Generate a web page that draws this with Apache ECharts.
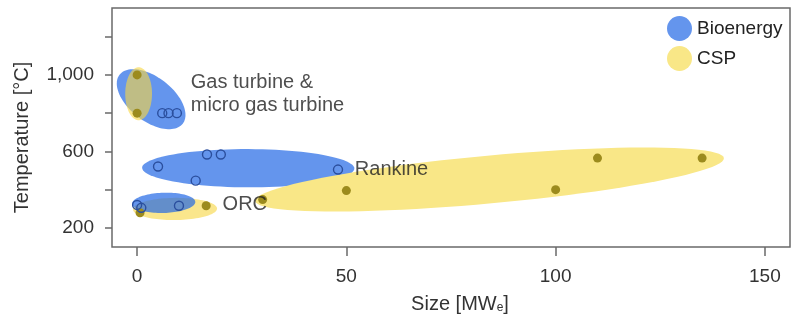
<!DOCTYPE html>
<html>
<head>
<meta charset="utf-8">
<script src="https://cdn.jsdelivr.net/npm/echarts@6/dist/echarts.min.js"></script>
<style>
  html, body { margin: 0; padding: 0; background: #fff; }
  #chart { width: 792px; height: 320px; }
</style>
</head>
<body>
<div id="chart"></div>
<script>
// ---- Data ----
// Bioenergy points (open circles)
const bioSize = [6, 7.5, 9.5, 5, 14, 16.7, 20, 48, 0, 1, 10];
const bioTemp = [800, 800, 800, 521, 447, 584, 584, 505, 320, 305, 316];
// CSP points (filled dots)
const cspSize = [0, 0, 0.7, 16.5, 30, 50, 100, 110, 135];
const cspTemp = [1000, 800, 279, 316, 348, 395, 400, 565, 565];

// Technology zones: major-axis end points [size, temp] and half-width (in °C)
const bioZoneFrom = [[-4.2, 1001], [1.2, 514], [-1.2, 326]];
const bioZoneTo   = [[10.9, 745], [51.9, 510], [13.9, 336]];
const bioZoneHalf = [115, 100, 53];
const cspZoneFrom = [[0.36, 1040], [-1.0, 297], [28.2, 341]];
const cspZoneTo   = [[0.36, 763], [19.1, 301], [140.2, 565]];
const cspZoneHalf = [70, 58, 125];

// Annotations
const annoText = ['Gas turbine &\nmicro gas turbine', 'Rankine', 'ORC'];
const annoSize = [12.7, 51.9, 20.3];
const annoTemp = [902, 508, 322];

// Axes
const xTicks = [0, 50, 100, 150];
const yTicks = [200, 400, 600, 800, 1000, 1200];
const yLabels = [200, 600, 1000];
const xRange = [-6, 156];
const yRange = [100, 1350];

// ---- Helpers ----
function zoneRows(from, to, half, idx) {
  return idx.map(i => [from[i][0], from[i][1], to[i][0], to[i][1], half[i]]);
}
function renderEllipse(params, api) {
  const p1 = api.coord([api.value(0), api.value(1)]);
  const p2 = api.coord([api.value(2), api.value(3)]);
  const b = Math.abs(api.size([0, api.value(4)])[1]);
  const cx = (p1[0] + p2[0]) / 2, cy = (p1[1] + p2[1]) / 2;
  const dx = p2[0] - p1[0], dy = p2[1] - p1[1];
  const a = Math.sqrt(dx * dx + dy * dy) / 2;
  const th = Math.atan2(dy, dx);
  const pts = [];
  for (let i = 0; i < 96; i++) {
    const t = (i / 96) * Math.PI * 2;
    pts.push([
      cx + a * Math.cos(t) * Math.cos(th) - b * Math.sin(t) * Math.sin(th),
      cy + a * Math.cos(t) * Math.sin(th) + b * Math.sin(t) * Math.cos(th)
    ]);
  }
  return { type: 'polygon', shape: { points: pts }, style: { fill: api.visual('color') } };
}
const FONT = 'Liberation Sans, Arial, Helvetica, sans-serif';
const BLUE_T = 'rgba(34,104,229,0.7)';
const YEL_T = 'rgba(247,215,69,0.62)';
const YEL_O = 'rgb(249,231,135)';

const option = {
  animation: false,
  textStyle: { fontFamily: FONT },
  grid: {
    left: 112, right: 2, top: 8, bottom: 73,
    show: true, borderColor: '#6a6a6a', borderWidth: 1.5, backgroundColor: 'transparent'
  },
  legend: {
    orient: 'vertical', left: 662, top: 11,
    itemWidth: 25, itemHeight: 25, itemGap: 5,
    selectedMode: false,
    textStyle: { fontFamily: FONT, fontSize: 19, color: '#222' },
    data: [
      { name: 'Bioenergy', icon: 'circle', itemStyle: { color: 'rgb(100,149,237)', borderWidth: 0 } },
      { name: 'CSP', icon: 'circle', itemStyle: { color: YEL_O, borderWidth: 0 } }
    ]
  },
  xAxis: {
    type: 'value', min: xRange[0], max: xRange[1],
    splitLine: { show: false },
    axisLine: { show: false, onZero: false },
    axisTick: { show: true, customValues: xTicks, length: 9, lineStyle: { color: '#6a6a6a', width: 1.5 } },
    axisLabel: { customValues: xTicks, margin: 20, fontSize: 19, color: '#333', fontFamily: FONT },
    name: 'Size [MW{e|e}]', nameLocation: 'middle', nameGap: 47,
    nameTextStyle: {
      fontSize: 20, color: '#333', fontFamily: FONT, padding: [0, 0, 0, 18],
      rich: { e: { fontSize: 12, verticalAlign: 'bottom', color: '#333', fontFamily: FONT, padding: [8, 0, 0, 0] } }
    }
  },
  yAxis: {
    type: 'value', min: yRange[0], max: yRange[1],
    splitLine: { show: false },
    axisLine: { show: false, onZero: false },
    axisTick: { show: true, customValues: yTicks, length: 7, lineStyle: { color: '#6a6a6a', width: 1.5 } },
    axisLabel: {
      customValues: yLabels, margin: 18, fontSize: 19, color: '#333', fontFamily: FONT,
      formatter: v => v.toLocaleString('en-US')
    },
    name: 'Temperature [°C]', nameLocation: 'middle', nameGap: 80, nameRotate: 90,
    nameTextStyle: { fontSize: 20, color: '#333', fontFamily: FONT, padding: [0, 20, 0, 0] }
  },
  series: [
    {
      name: 'Bioenergy', type: 'custom', renderItem: renderEllipse,
      itemStyle: { color: BLUE_T }, encode: { x: [0, 2], y: [1, 3] },
      data: zoneRows(bioZoneFrom, bioZoneTo, bioZoneHalf, [0, 1]), z: 1
    },
    {
      name: 'CSP', type: 'custom', renderItem: renderEllipse,
      itemStyle: { color: YEL_T }, encode: { x: [0, 2], y: [1, 3] },
      data: zoneRows(cspZoneFrom, cspZoneTo, cspZoneHalf, [0, 1]), z: 2
    },
    {
      name: 'CSP', type: 'custom', renderItem: renderEllipse,
      itemStyle: { color: YEL_O }, encode: { x: [0, 2], y: [1, 3] },
      data: zoneRows(cspZoneFrom, cspZoneTo, cspZoneHalf, [2]), z: 3
    },
    {
      name: 'Bioenergy', type: 'custom', renderItem: renderEllipse,
      itemStyle: { color: BLUE_T }, encode: { x: [0, 2], y: [1, 3] },
      data: zoneRows(bioZoneFrom, bioZoneTo, bioZoneHalf, [2]), z: 4
    },
    {
      name: 'CSP', type: 'scatter', symbol: 'circle', symbolSize: 9, z: 5,
      itemStyle: { color: '#9c8b1d', opacity: 1 },
      data: cspSize.map((x, i) => [x, cspTemp[i]])
    },
    {
      name: 'Bioenergy', type: 'scatter', symbol: 'circle', symbolSize: 9, z: 6,
      itemStyle: { color: 'rgba(0,0,0,0)', borderColor: '#2b4f9e', borderWidth: 1.4, opacity: 1 },
      data: bioSize.map((x, i) => [x, bioTemp[i]])
    },
    {
      name: 'labels', type: 'scatter', symbolSize: 1, z: 7, silent: true,
      itemStyle: { color: 'rgba(0,0,0,0)' },
      label: {
        show: true, position: 'right', distance: 0,
        formatter: p => p.name,
        fontSize: 20, lineHeight: 23, color: '#222', fontFamily: FONT
      },
      data: annoText.map((t, i) => ({ name: t, value: [annoSize[i], annoTemp[i]] }))
    }
  ]
};

const chart = echarts.init(document.getElementById('chart'), null, { renderer: 'canvas' });
chart.setOption(option);
</script>
</body>
</html>
